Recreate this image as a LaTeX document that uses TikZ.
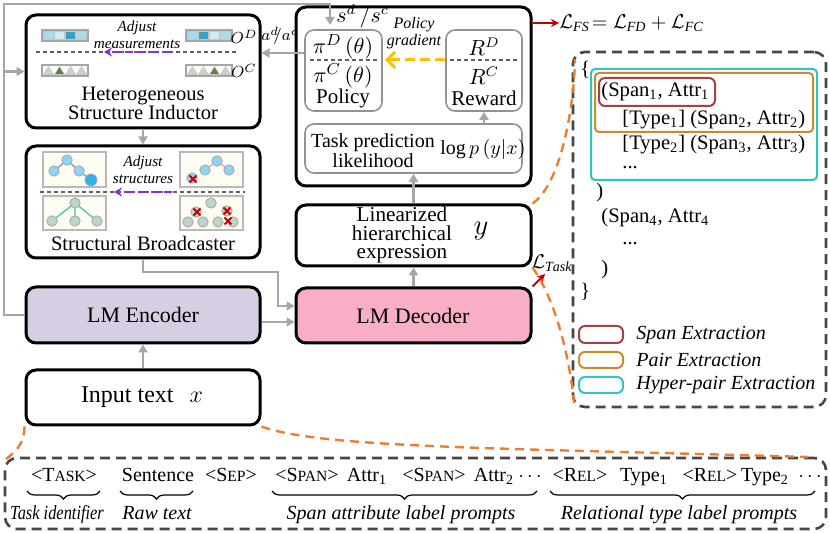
\documentclass[tikz,border=0pt]{standalone}
\usepackage{fontspec}
\setmainfont{Liberation Serif}
\usetikzlibrary{arrows.meta,fit,decorations.pathreplacing,calc}
\definecolor{lgray}{HTML}{A6A6A6}
\definecolor{encfill}{HTML}{D6CEE2}
\definecolor{decfill}{HTML}{F8AFC5}
\definecolor{orng}{HTML}{ED7D31}
\definecolor{purp}{HTML}{8A2BE2}
\definecolor{ylw}{HTML}{FFC000}
\definecolor{dred}{HTML}{C00000}
\definecolor{spanc}{HTML}{A4433E}
\definecolor{pairc}{HTML}{CC8A2E}
\definecolor{hypc}{HTML}{2EC4C4}
\definecolor{dgray}{HTML}{474747}
\definecolor{sqA}{HTML}{A8DCEA}
\definecolor{sqB}{HTML}{D2ECF3}
\definecolor{sqC}{HTML}{36A2C6}
\definecolor{trA}{HTML}{C8D5BF}
\definecolor{trB}{HTML}{5E8046}
\definecolor{cream}{HTML}{FFFDF2}
\definecolor{bluec}{HTML}{8ED4F8}
\definecolor{bluecc}{HTML}{2DB3F0}
\definecolor{greenc}{HTML}{B9D6C8}
\definecolor{tealc}{HTML}{3CC3A8}
\newcommand{\smc}[1]{\scalebox{0.78}{#1}}
\newcommand{\sqstrip}[3]{%
  \draw[gray!70, line width=0.6pt] (#1,#2) rectangle ++(46,11);
  \foreach \c [count=\i from 0] in {#3}
    \filldraw[fill=\c, draw=gray!45, line width=0.3pt] (#1+1.5+\i*11,#2+1.5) rectangle ++(10,8);
}
\newcommand{\trstrip}[3]{%
  \draw[gray!70, line width=0.6pt] (#1,#2) rectangle ++(46,11);
  \foreach \c [count=\i from 0] in {#3}
    \filldraw[fill=\c, draw=gray!45, line width=0.3pt] (#1+1.5+\i*11,#2+9.5) -- ++(5,-8) -- ++(5,8) -- cycle;
}
\newcommand{\redx}[2]{%
  \draw[red!80!black, line width=1pt] (#1-3.5,#2-3.5) -- (#1+3.5,#2+3.5) (#1-3.5,#2+3.5) -- (#1+3.5,#2-3.5);
}
\begin{document}
\begin{tikzpicture}[x=0.5pt,y=-0.5pt,
  blackbox/.style={draw=black, line width=1.5pt, rounded corners=5pt, inner sep=0pt},
  graybox/.style={draw=gray!85, line width=0.8pt, rounded corners=4.5pt, inner sep=0pt},
  grayarrow/.style={draw=lgray, line width=1.2pt, -{Triangle[length=4pt,width=4.5pt]}},
  grayline/.style={draw=lgray, line width=1.2pt},
  innerdash/.style={draw=gray!75!black, line width=0.6pt, dash pattern=on 2pt off 1.5pt},
  purparrow/.style={draw=purp, line width=1pt, dash pattern=on 4pt off 2.5pt, -{Stealth[length=4pt,width=4.5pt]}},
  orangedash/.style={draw=orng, line width=1.2pt, dash pattern=on 4.5pt off 3pt},
  dashbox/.style={draw=dgray, line width=1.3pt, dash pattern=on 5pt off 3pt, rounded corners=6pt, inner sep=0pt},
  redarrow/.style={draw=dred, line width=1pt, -{Stealth[length=4pt,width=4pt]}},
  txt/.style={inner sep=0pt, font=\fontsize{10}{11}\selectfont},
  adj/.style={inner sep=0pt, align=center, font=\fontsize{7.6}{8.5}\selectfont\itshape},
  rtxt/.style={inner sep=0pt, anchor=west, font=\fontsize{10.3}{12}\selectfont},
  ltxt/.style={inner sep=0pt, anchor=west, font=\fontsize{10}{11}\selectfont\itshape},
  btxt/.style={inner sep=0pt, anchor=base, font=\fontsize{10}{11}\selectfont},
  blab/.style={inner sep=0pt, anchor=base, font=\fontsize{10}{11}\selectfont\itshape},
  brc/.style={decorate, decoration={brace, mirror, amplitude=4pt}, line width=0.6pt},
  pic/.style={fill=cream, draw=gray!55, line width=0.6pt}
]
\useasboundingbox (0,0) rectangle (830,533);

% ---------------- main boxes
\node[blackbox, fit={(26,15)(260,128)}] (hsi) {};
\node[blackbox, fit={(26,146)(260,258)}] (sb) {};
\node[blackbox, fill=encfill, fit={(26,287)(260,343)}] (enc) {};
\node[blackbox, fit={(26,370)(260,425)}] (input) {};
\node[blackbox, fit={(296,7)(531,186)}] (big) {};
\node[blackbox, fit={(296,205)(531,266)}] (lin) {};
\node[blackbox, fill=decfill, fit={(296,288)(531,343)}] (dec) {};
\node[graybox, fit={(305,30)(382,111)}] (pol) {};
\node[graybox, fit={(446,30)(522,111)}] (rew) {};
\node[graybox, fit={(305,124)(522,173)}] (lik) {};

% ---------------- HSI content
\sqstrip{42}{30}{sqA,sqB,sqC,sqA}
\sqstrip{186}{30}{sqA,sqC,sqB,sqA}
\trstrip{42}{65}{trA,trB,trA,trA}
\trstrip{186}{65}{trA,trA,trB,trA}
\draw[innerdash] (36,52) -- (238,52);
\draw[purparrow] (172,52) -- (104,52);
\node[adj] (adjm) at (137,34.5) {Adjust\\measurements};
\node[txt, font=\fontsize{8.5}{10}\selectfont] (od) at (244,37) {$O^{D}$};
\node[txt, font=\fontsize{8.5}{10}\selectfont] (oc) at (244,71) {$O^{C}$};
\node[txt, align=center, font=\fontsize{10.25}{9.6}\selectfont] (hsit) at (143,103) {Heterogeneous\\Structure Inductor};

% ---------------- SB content
\draw[pic] (43,152) rectangle (106,187);
\draw[pic] (180,152) rectangle (243,187);
\draw[pic] (43,196) rectangle (106,230);
\draw[pic] (180,196) rectangle (243,230);
\draw[tealc!60!gray, line width=0.6pt] (54,171) -- (67,160) -- (79,171) -- (91,180);
\foreach \p in {(54,171),(67,160),(79,171)} \filldraw[fill=bluec, draw=gray!70, line width=0.4pt] \p circle (2.6pt);
\filldraw[fill=bluecc, draw=gray!70, line width=0.4pt] (91,180) circle (3pt);
\draw[gray!60, line width=0.6pt] (205,170) -- (217,161) -- (229,170);
\foreach \p in {(192,178),(205,170),(217,161),(229,170)} \filldraw[fill=bluec, draw=gray!70, line width=0.4pt] \p circle (2.6pt);
\redx{193}{179}
\draw[tealc, line width=0.6pt] (52,221) -- (75,203) -- (97,221) (75,203) -- (75,221);
\foreach \p in {(75,203),(52,221),(75,221),(97,221)} \filldraw[fill=greenc, draw=gray!70, line width=0.4pt] \p circle (2.6pt);
\foreach \p in {(211,203),(188,222),(203,222),(218,222),(233,222),(196,212),(227,211)} \filldraw[fill=greenc, draw=gray!70, line width=0.4pt] \p circle (2.6pt);
\redx{197}{212}
\redx{227}{211}
\redx{228}{221}
\draw[innerdash] (40,192) -- (245,192);
\draw[purparrow] (172,192) -- (114,192);
\node[adj] (adjs) at (143,169.5) {Adjust\\structures};
\node[txt, font=\fontsize{10.25}{11}\selectfont] (sbt) at (143,243) {Structural Broadcaster};

% ---------------- encoder / input / decoder
\node[txt, font=\fontsize{11}{12}\selectfont] (enct) at (143,315) {LM Encoder};
\node[txt, font=\fontsize{12}{13}\selectfont] (inpt) at (142,397) {Input text\hspace{8pt}$x$};
\node[txt, font=\fontsize{11}{12}\selectfont] (dect) at (413,316) {LM Decoder};
\node[txt, align=center, font=\fontsize{10.6}{9.2}\selectfont] (lint) at (402,235) {Linearized\\hierarchical\\expression};
\node[txt, font=\fontsize{14}{15}\selectfont] (liny) at (481,231) {$y$};

% ---------------- policy box content
\draw[innerdash] (310,60) -- (378,60);
\draw[innerdash] (450,60) -- (518,60);
\node[txt, font=\fontsize{11}{12}\selectfont] (pd) at (343,47) {$\pi^{D}\,(\theta)$};
\node[txt, font=\fontsize{11}{12}\selectfont] (pc) at (343,76) {$\pi^{C}\,(\theta)$};
\node[txt, font=\fontsize{10.5}{12}\selectfont] (plab) at (343,98) {Policy};
\node[txt, font=\fontsize{10.5}{12}\selectfont] (rd) at (484,47) {$R^{D}$};
\node[txt, font=\fontsize{10.5}{12}\selectfont] (rc) at (484,76) {$R^{C}$};
\node[txt, font=\fontsize{10.5}{12}\selectfont] (rlab) at (484,98) {Reward};
\node[txt, align=center, font=\fontsize{8}{8.5}\selectfont\itshape] (pgr) at (414,33) {Policy\\gradient};
\draw[draw=ylw, line width=1.5pt, dash pattern=on 5pt off 2.5pt, -{Straight Barb[length=4pt,width=8pt]}] (rew.west |- 0,60) -- (385,60);
\node[txt, align=center, font=\fontsize{10}{8.3}\selectfont] (likt) at (373,151) {Task prediction\\likelihood};
\node[txt, font=\fontsize{10}{11}\selectfont] (logp) at (483,150) {$\log p\,(y|x)$};
\node[txt, anchor=west, font=\fontsize{10.5}{12}\selectfont] (sds) at (336,16) {$s^{d}\,/s^{c}$};
\node[txt, font=\fontsize{8.5}{10}\selectfont] (ada) at (280,36) {$a^{d}\!\!/a^{c}$};

% ---------------- gray connectors
\coordinate (L) at (4,4);
\coordinate (ay) at (0,53);
\coordinate (ey) at (0,322);
\coordinate (sy) at (0,306);
\coordinate (sdin) at (330,25);
\coordinate (sbk) at (278,272);
\draw[grayarrow] (hsi.south) -- (sb.north);
\draw[grayarrow] (input.north) -- (enc.south);
\draw[grayarrow] (enc.west) -| (L) -| (sdin);
\draw[grayarrow] (hsi.west -| L) -- (hsi.west);
\draw[grayarrow] (pol.west |- ay) -- (hsi.east |- ay);
\draw[grayarrow] (sb.south) |- (sbk) |- (dec.west |- sy);
\draw[grayarrow] (enc.east |- ey) -- (dec.west |- ey);
\draw[grayarrow] (dec.north) -- (lin.south);
\draw[grayarrow] (lin.north) -- (lik.south);
\draw[grayarrow] (lik.north -| rew.south) -- (rew.south);

% ---------------- losses
\node[txt, anchor=west, font=\fontsize{10}{11}\selectfont] (lfs) at (559,23) {$\mathcal{L}_{\mathit{FS}}\!=\mathcal{L}_{\mathit{FD}}+\mathcal{L}_{\mathit{FC}}$};
\draw[redarrow] (big.east |- lfs.west) -- (lfs.west);
\node[txt, font=\fontsize{10}{11}\selectfont] (ltask) at (552,263) {$\mathcal{L}_{\mathit{Task}}$};
\coordinate (ltin) at (545,274);
\draw[redarrow] (dec.north east) -- (ltin);

% ---------------- right dashed box
\node[dashbox, fit={(573,52)(826,407)}] (outbox) {};
\node[fit={(591,69)(817,180)}, draw=hypc, line width=1pt, rounded corners=2pt, inner sep=0pt] (hypb) {};
\node[fit={(595,73)(813,132)}, draw=pairc, line width=1pt, rounded corners=2pt, inner sep=0pt] (pairb) {};
\node[fit={(599,78)(715,106)}, draw=spanc, line width=1pt, rounded corners=3pt, inner sep=0pt] (spanb) {};
\node[rtxt] (r0) at (580,70) {\{};
\node[rtxt] (r1) at (601,92) {(Span\textsubscript{1}, Attr\textsubscript{1}};
\node[rtxt] (r2) at (622,120) {[Type\textsubscript{1}] (Span\textsubscript{2}, Attr\textsubscript{2})};
\node[rtxt] (r3) at (622,145) {[Type\textsubscript{2}] (Span\textsubscript{3}, Attr\textsubscript{3})};
\node[rtxt] (r4) at (622,168) {...};
\node[rtxt] (r5) at (596,193) {)};
\node[rtxt] (r6) at (601,218) {(Span\textsubscript{4}, Attr\textsubscript{4}};
\node[rtxt] (r7) at (622,244) {...};
\node[rtxt] (r8) at (601,270) {)};
\node[rtxt] (r9) at (580,292) {\}};
\node[fit={(579,326)(623,343)}, draw=spanc, line width=1pt, rounded corners=3pt, inner sep=0pt] (lg1) {};
\node[fit={(579,352)(623,368)}, draw=pairc, line width=1pt, rounded corners=3pt, inner sep=0pt] (lg2) {};
\node[fit={(579,377)(623,393)}, draw=hypc, line width=1pt, rounded corners=3pt, inner sep=0pt] (lg3) {};
\node[ltxt] (lg1t) at (636,335) {Span Extraction};
\node[ltxt] (lg2t) at (636,360) {Pair Extraction};
\node[ltxt] (lg3t) at (636,385) {Hyper-pair Extraction};

% ---------------- bottom dashed box
\node[dashbox, fit={(5,458)(826,529)}] (botbox) {};
\node[btxt] (t1) at (64,482) {<T\smc{ASK}>};
\node[btxt] (t2) at (158,482) {Sentence};
\node[btxt] (t3) at (231,482) {<S\smc{EP}>};
\node[btxt] (t4) at (307,482) {<S\smc{PAN}>};
\node[btxt] (t5) at (367,482) {Attr\textsubscript{1}};
\node[btxt] (t6) at (434,482) {<S\smc{PAN}>};
\node[btxt] (t7) at (494,482) {Attr\textsubscript{2}};
\node[btxt] (t8) at (530,482) {$\cdots$};
\node[btxt] (t9) at (580,482) {<R\smc{EL}>};
\node[btxt] (t10) at (644,482) {Type\textsubscript{1}};
\node[btxt] (t11) at (710,482) {<R\smc{EL}>};
\node[btxt] (t12) at (765,482) {Type\textsubscript{2}};
\node[btxt] (t13) at (810,482) {$\cdots$};
\draw[brc] (27,491) -- (100,491);
\draw[brc] (120,491) -- (193,491);
\draw[brc] (272,491) -- (537,491);
\draw[brc] (550,491) -- (815,491);
\node[blab] (b1) at (57,520) {\scalebox{0.82}[1]{Task identifier}};
\node[blab] (b2) at (157,520) {Raw text};
\node[blab] (b3) at (401,520) {Span attribute label prompts};
\node[blab] (b4) at (679,520) {Relational type label prompts};

% ---------------- orange dashed callouts
\draw[orangedash] (lin.north east) .. controls (560,185) and (574,110) .. (575,59);
\draw[orangedash] (lin.south east) .. controls (556,300) and (570,360) .. (574,403);
\draw[orangedash] (input.south west) .. controls (24,445) and (15,452) .. (6,459);
\draw[orangedash] (input.south east) .. controls (320,448) and (500,448) .. (808,457);
\end{tikzpicture}
\end{document}
